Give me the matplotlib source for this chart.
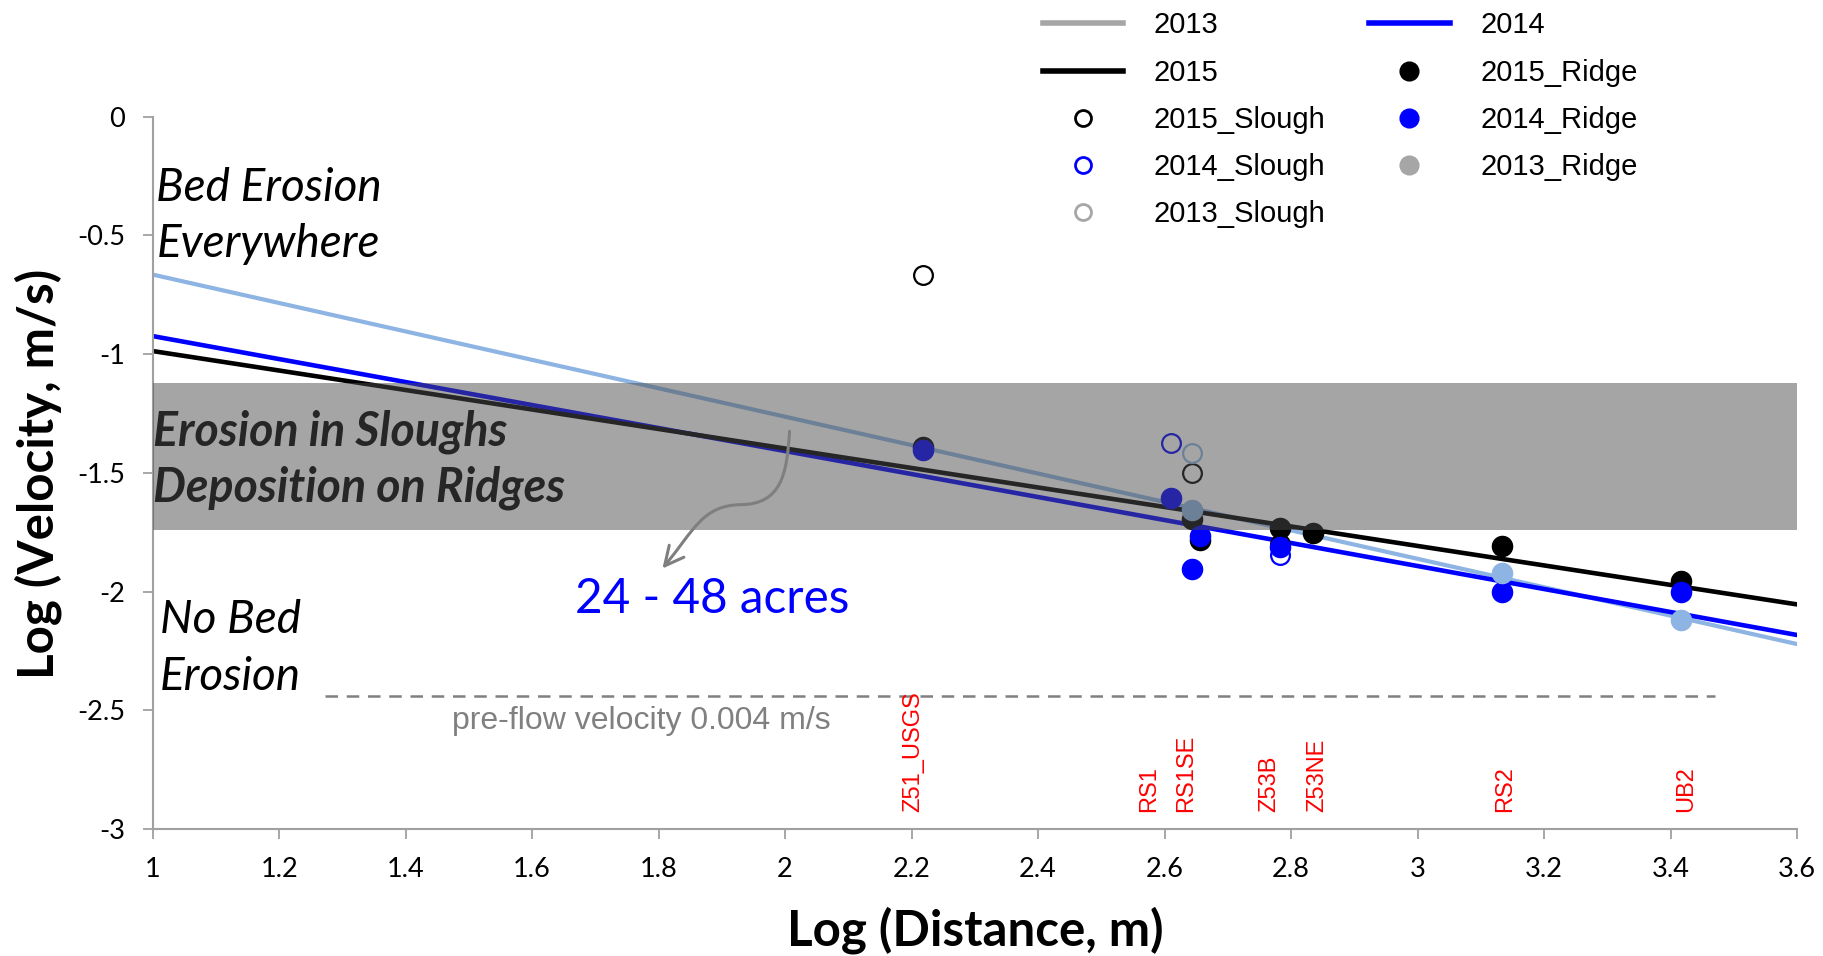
import numpy as np
import matplotlib
matplotlib.use("Agg")
import matplotlib.pyplot as plt
from matplotlib.lines import Line2D
from matplotlib.patches import FancyArrowPatch
from matplotlib.path import Path
from matplotlib.ticker import FuncFormatter

plt.rcParams['axes.unicode_minus'] = False

# regression lines (log velocity = a + b * log distance)
years = ['2013', '2014', '2015']
intercepts = [-0.0665, -0.4398, -0.5766]
slopes = [-0.5985, -0.4842, -0.4104]

# measured points
ridge_2015_x = [2.218, 2.643, 2.656, 2.782, 2.835, 3.133, 3.417]
ridge_2015_y = [-1.39, -1.693, -1.781, -1.731, -1.753, -1.809, -1.956]
ridge_2014_x = [2.218, 2.610, 2.656, 2.643, 2.782, 3.133, 3.417]
ridge_2014_y = [-1.405, -1.604, -1.767, -1.903, -1.812, -2.001, -2.001]
ridge_2013_x = [2.643, 3.133, 3.417]
ridge_2013_y = [-1.655, -1.920, -2.120]
slough_2015_x = [2.218, 2.643, 2.782]
slough_2015_y = [-0.666, -1.50, -1.80]
slough_2014_x = [2.610, 2.782]
slough_2014_y = [-1.374, -1.847]
slough_2013_x = [2.643]
slough_2013_y = [-1.415]

# site names along the bottom
site_names = ['Z51_USGS', 'RS1', 'RS1SE', 'Z53B', 'Z53NE', 'RS2', 'UB2']
site_logdist = [2.202, 2.575, 2.634, 2.766, 2.841, 3.139, 3.424]

# thresholds
band_low, band_high = -1.741, -1.123
pre_flow = -2.44
pre_flow_x = [1.272, 3.47]

c13 = '#8DB4E2'
c14 = '#0000FF'
c15 = '#000000'
gray_leg = '#A6A6A6'

calibri = 'Lato'
arial = 'Liberation Sans'

fig = plt.figure(figsize=(18.23, 9.56), dpi=100)
ax = fig.add_axes([152.7/1823, 1-829/956, (1797-152.7)/1823, (829-116.7)/956])

xx = np.array([1.0, 3.6])
for yr, a, b, c, lw in zip(years, intercepts, slopes, [c13, c14, c15], [3.0, 3.3, 3.3]):
    ax.plot(xx, a + b*xx, color=c, lw=lw, solid_capstyle='round', zorder=2)

ax.plot(slough_2015_x, slough_2015_y, 'o', mfc='none', mec=c15, mew=1.6, ms=13.5, zorder=3)
ax.plot(ridge_2015_x, ridge_2015_y, 'o', color=c15, ms=14.5, zorder=3)
ax.plot(slough_2014_x, slough_2014_y, 'o', mfc='none', mec=c14, mew=1.6, ms=13.5, zorder=3)
ax.plot(ridge_2014_x, ridge_2014_y, 'o', color=c14, ms=14.5, zorder=3)
ax.plot(slough_2013_x, slough_2013_y, 'o', mfc='none', mec=c13, mew=1.6, ms=13.5, zorder=3)
ax.plot(ridge_2013_x, ridge_2013_y, 'o', color=c13, ms=14.5, zorder=3)

# band text sits under the shading so it comes out dark grey
ax.text(1.0, -1.326, 'Erosion in Sloughs', fontsize=33.5, fontweight='bold', style='italic',
        family=calibri, color='black', ha='left', va='center', zorder=4)
ax.text(1.0, -1.561, 'Deposition on Ridges', fontsize=33.5, fontweight='bold', style='italic',
        family=calibri, color='black', ha='left', va='center', zorder=4)
ax.axhspan(band_low, band_high, color='#4D4D4D', alpha=0.5, lw=0, zorder=5)

ax.text(1.006, -0.2985, 'Bed Erosion', fontsize=33, style='italic', family=calibri, va='center')
ax.text(1.006, -0.538, 'Everywhere', fontsize=33, style='italic', family=calibri, va='center')
ax.text(1.011, -2.119, 'No Bed', fontsize=33, style='italic', family=calibri, va='center')
ax.text(1.011, -2.359, 'Erosion', fontsize=33, style='italic', family=calibri, va='center')

ax.text(1.884, -2.031, '24 - 48 acres', fontsize=34.3, color=c14, family=calibri,
        ha='center', va='center', zorder=6)

# pre-flow velocity
ax.plot(pre_flow_x, [pre_flow, pre_flow], color='#808080', lw=1.8, dashes=(5, 3.5), zorder=2)
ax.text(1.772, -2.544, 'pre-flow velocity 0.004 m/s', fontsize=23, color='#808080',
        family=arial, ha='center', va='center')

for name, xd in zip(site_names, site_logdist):
    ax.text(xd, -2.928, name, rotation=90, color='red', fontsize=17, family=arial,
            ha='center', va='bottom')

# curly arrow
verts = [(2.007, -1.325), (2.003, -1.50), (1.995, -1.632), (1.93, -1.634),
         (1.87, -1.636), (1.856, -1.74), (1.806, -1.903)]
codes = [Path.MOVETO] + [Path.CURVE4]*6
arrow = FancyArrowPatch(path=Path(verts, codes), arrowstyle='->', mutation_scale=34,
                        color='#7F7F7F', lw=2.2, zorder=6)
ax.add_patch(arrow)

ax.set_xlim(1, 3.6)
ax.set_ylim(-3, 0)
ax.set_xticks(np.arange(1, 3.61, 0.2))
ax.set_yticks(np.arange(-3, 0.01, 0.5))
ax.xaxis.set_major_formatter(FuncFormatter(lambda v, p: '%g' % round(v, 1)))
ax.yaxis.set_major_formatter(FuncFormatter(lambda v, p: '%g' % round(v, 1)))
ax.tick_params(direction='out', length=7, width=1.3, color='#A0A0A0', pad=13, labelsize=19.5)
for lab in ax.get_xticklabels() + ax.get_yticklabels():
    lab.set_family(calibri)
for s in ['top', 'right']:
    ax.spines[s].set_visible(False)
for s in ['left', 'bottom']:
    ax.spines[s].set_color('#A0A0A0')
    ax.spines[s].set_linewidth(1.5)

fig.text(38/1823, 1-474/956, 'Log (Velocity, m/s)', rotation=90, fontsize=35.5, fontweight='bold',
         family=calibri, ha='center', va='center')
fig.text(975/1823, 1-930/956, 'Log (Distance, m)', fontsize=35.5, fontweight='bold',
         family=calibri, ha='center', va='center')

handles = [
    Line2D([], [], color=gray_leg, lw=4),
    Line2D([], [], color=c15, lw=4),
    Line2D([], [], ls='none', marker='o', mfc='none', mec=c15, mew=2, ms=11.5),
    Line2D([], [], ls='none', marker='o', mfc='none', mec=c14, mew=2, ms=11.5),
    Line2D([], [], ls='none', marker='o', mfc='none', mec=gray_leg, mew=2, ms=11.5),
    Line2D([], [], color=c14, lw=4),
    Line2D([], [], ls='none', marker='o', color=c15, ms=13.5),
    Line2D([], [], ls='none', marker='o', color=c14, ms=13.5),
    Line2D([], [], ls='none', marker='o', color=gray_leg, ms=13.5),
]
labels = ['2013', '2015', '2015_Slough', '2014_Slough', '2013_Slough',
          '2014', '2015_Ridge', '2014_Ridge', '2013_Ridge']
fig.legend(handles, labels, ncol=2, loc='upper left', bbox_to_anchor=(1043/1823, 0.988),
           frameon=False, borderpad=0, borderaxespad=0, handlelength=2.75, handletextpad=1.05,
           columnspacing=1.5, labelspacing=0.66, prop={'family': arial, 'size': 21})

fig.savefig('out.png', dpi=100)
